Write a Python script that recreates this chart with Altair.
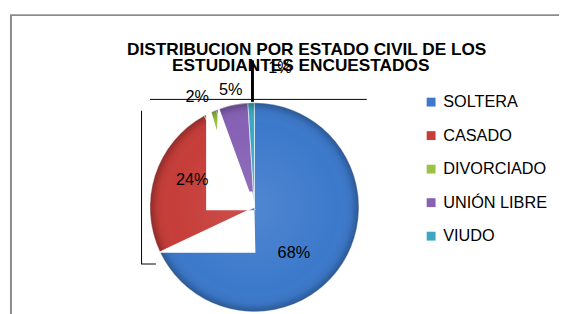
import math
import altair as alt
import pandas as pd

# ---- data ----
categories = ["SOLTERA", "CASADO", "DIVORCIADO", "UNIÓN LIBRE", "VIUDO"]
values = [68, 24, 2, 5, 1]
labels = ["68%", "24%", "2%", "5%", "1%"]
colors = ["#3c79cb", "#c63d39", "#9cc243", "#8661b5", "#3ba7c3"]
title_lines = ["DISTRIBUCION POR ESTADO CIVIL DE LOS", "ESTUDIANTES ENCUESTADOS"]

df = pd.DataFrame({"cat": categories, "value": values, "label": labels,
                   "idx": list(range(len(categories)))})

FONT = "Liberation Sans, Arial, sans-serif"
CX, CY, R = 250, 200, 106
one = alt.Data(values=[{"k": 1}])

color_scale = alt.Scale(domain=categories, range=colors)

pie = alt.Chart(df).mark_arc(radius=R, stroke="white", strokeWidth=0.6).encode(
    theta=alt.Theta("value:Q", stack=True),
    order=alt.Order("idx:Q"),
    color=alt.Color("cat:N", scale=color_scale, sort=categories,
                    legend=alt.Legend(orient="none", legendX=421, legendY=85, title=None,
                                      symbolType="square", symbolSize=81,
                                      symbolStrokeWidth=0, labelFont=FONT,
                                      labelFontSize=16.5, labelColor="black",
                                      rowPadding=17, labelOffset=4, padding=0,
                                      labelLimit=300)),
    x=alt.value(CX), y=alt.value(CY),
)

shade = alt.Chart(one).mark_arc(
    theta=0, theta2=2 * math.pi, radius=R,
    color={"gradient": "radial", "x1": 0.5, "y1": 0.5, "r1": 0,
           "x2": 0.5, "y2": 0.5, "r2": 0.5,
           "stops": [{"offset": 0, "color": "rgba(255,255,255,0.10)"},
                     {"offset": 0.8, "color": "rgba(255,255,255,0)"},
                     {"offset": 0.93, "color": "rgba(0,0,0,0.05)"},
                     {"offset": 1, "color": "rgba(0,0,0,0.28)"}]},
).encode(x=alt.value(CX), y=alt.value(CY))

# white patch artefact of the reference picture
patch_path = ("M201,92 L203,92 L212,122 L213,96 L245,184 L248,184 L251,203 L201,203 Z "
              "M250,200 L152,246 L251,246 Z")
patch = alt.Chart(one).mark_point(shape=patch_path, size=4, filled=True, color="white",
                                  opacity=1, strokeWidth=0).encode(
    x=alt.value(0), y=alt.value(0))

frame = alt.Chart(one).mark_rect(fill="transparent", stroke="#8c8c8c", strokeWidth=2).encode(
    x=alt.value(3), y=alt.value(5), x2=alt.value(800), y2=alt.value(600))

hline = alt.Chart(one).mark_rule(color="black", strokeWidth=1).encode(
    x=alt.value(144), x2=alt.value(364), y=alt.value(90.5))
vline = alt.Chart(one).mark_rule(color="black", strokeWidth=3).encode(
    x=alt.value(248), y=alt.value(51), y2=alt.value(93))
bracket_v = alt.Chart(one).mark_rule(color="black", strokeWidth=1).encode(
    x=alt.value(135.5), y=alt.value(102), y2=alt.value(257.5))
bracket_h = alt.Chart(one).mark_rule(color="black", strokeWidth=1).encode(
    x=alt.value(135), x2=alt.value(150), y=alt.value(257.5))

label_layout = {
    "SOLTERA": (61, -11.5, 13.3),
    "CASADO": (69, 2.6, -6.7),
    "DIVORCIADO": (126, -4.4, 2),
    "UNIÓN LIBRE": (121, 2.4, -0.9),
    "VIUDO": (141, 30.4, 0),
}
label_layers = []
for c in categories:
    rr, ddx, ddy = label_layout[c]
    label_layers.append(
        alt.Chart(df).transform_calculate(t=f"datum.cat == '{c}' ? datum.label : ''")
        .mark_text(radius=rr, dx=ddx, dy=ddy, font=FONT, fontSize=16.5, color="black",
                   align="center", baseline="middle")
        .encode(theta=alt.Theta("value:Q", stack=True), order=alt.Order("idx:Q"),
                text="t:N", x=alt.value(CX), y=alt.value(CY))
    )

title1 = alt.Chart(one).mark_text(text=title_lines[0], font=FONT, fontSize=17.5,
                                  fontWeight="bold", color="black", align="center",
                                  baseline="alphabetic").encode(
    x=alt.value(303), y=alt.value(45))
title2 = alt.Chart(one).mark_text(text=title_lines[1], font=FONT, fontSize=17.5,
                                  fontWeight="bold", color="black", align="center",
                                  baseline="alphabetic").encode(
    x=alt.value(297), y=alt.value(62))

chart = alt.layer(frame, pie, shade, patch, hline, bracket_v, bracket_h,
                  title1, title2, vline, *label_layers).properties(
    width=559, height=306, padding=0, autosize="none", background="white"
).configure_view(strokeWidth=0)

chart.save("out.html", embed_options={"renderer": "svg", "actions": False})
